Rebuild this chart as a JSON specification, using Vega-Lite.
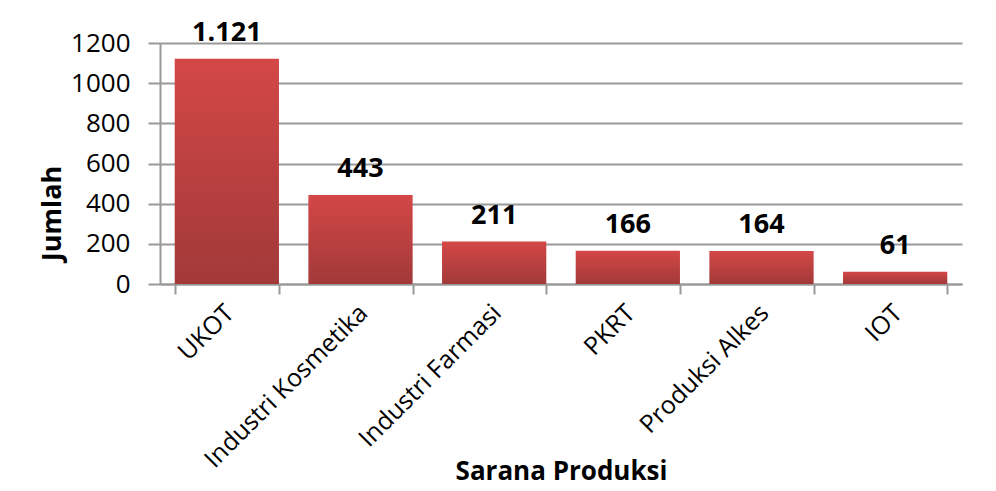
{
  "$schema": "https://vega.github.io/schema/vega-lite/v6.json",
  "autosize": "none",
  "width": 802,
  "height": 241,
  "padding": {"left": 160, "top": 43, "right": 34, "bottom": 207},
  "background": "white",
  "data": {
    "values": [
      {"sarana": "UKOT", "jumlah": 1121, "label": "1.121"},
      {"sarana": "Industri Kosmetika", "jumlah": 443, "label": "443"},
      {"sarana": "Industri Farmasi", "jumlah": 211, "label": "211"},
      {"sarana": "PKRT", "jumlah": 166, "label": "166"},
      {"sarana": "Produksi Alkes", "jumlah": 164, "label": "164"},
      {"sarana": "IOT", "jumlah": 61, "label": "61"}
    ]
  },
  "encoding": {
    "x": {
      "field": "sarana", "type": "nominal", "sort": null,
      "scale": {"paddingInner": 0.22, "paddingOuter": 0.11},
      "axis": {
        "title": "Sarana Produksi",
        "titleFont": "Open Sans", "titleFontSize": 26, "titleFontWeight": "bold", "titleColor": "#000",
        "titleY": 195, "titleBaseline": "alphabetic",
        "labelAngle": -45, "labelFont": "Open Sans", "labelFontSize": 25, "labelColor": "#000",
        "labelPadding": 6, "labelLimit": 0, "labelOffset": -6,
        "tickBand": "extent", "tickSize": 10, "tickColor": "#999", "tickWidth": 2,
        "domainColor": "#999", "domainWidth": 2, "grid": false
      }
    },
    "y": {
      "field": "jumlah", "type": "quantitative",
      "scale": {"domain": [0, 1200], "nice": false},
      "axis": {
        "title": "Jumlah", "values": [0, 200, 400, 600, 800, 1000, 1200], "format": "d",
        "titleFont": "Open Sans", "titleFontSize": 27, "titleFontWeight": "bold", "titleColor": "#000",
        "titleX": -108, "titleY": 170, "titleAngle": -90, "titleAlign": "center", "titleBaseline": "middle",
        "labelFont": "Open Sans", "labelFontSize": 26, "labelColor": "#000", "labelPadding": 18,
        "tickSize": 12, "tickColor": "#999", "tickWidth": 2,
        "domainColor": "#999", "domainWidth": 2,
        "grid": true, "gridColor": "#999", "gridWidth": 2
      }
    }
  },
  "layer": [
    {
      "mark": {
        "type": "bar",
        "color": {
          "gradient": "linear", "x1": 0, "y1": 0, "x2": 0, "y2": 1,
          "stops": [{"offset": 0, "color": "#d44747"}, {"offset": 1, "color": "#a23939"}]
        }
      }
    },
    {
      "mark": {"type": "text", "font": "Open Sans", "fontSize": 27, "fontWeight": "bold", "color": "#000", "baseline": "alphabetic", "dy": -18},
      "encoding": {"text": {"field": "label"}}
    }
  ],
  "config": {"view": {"stroke": null}}
}
